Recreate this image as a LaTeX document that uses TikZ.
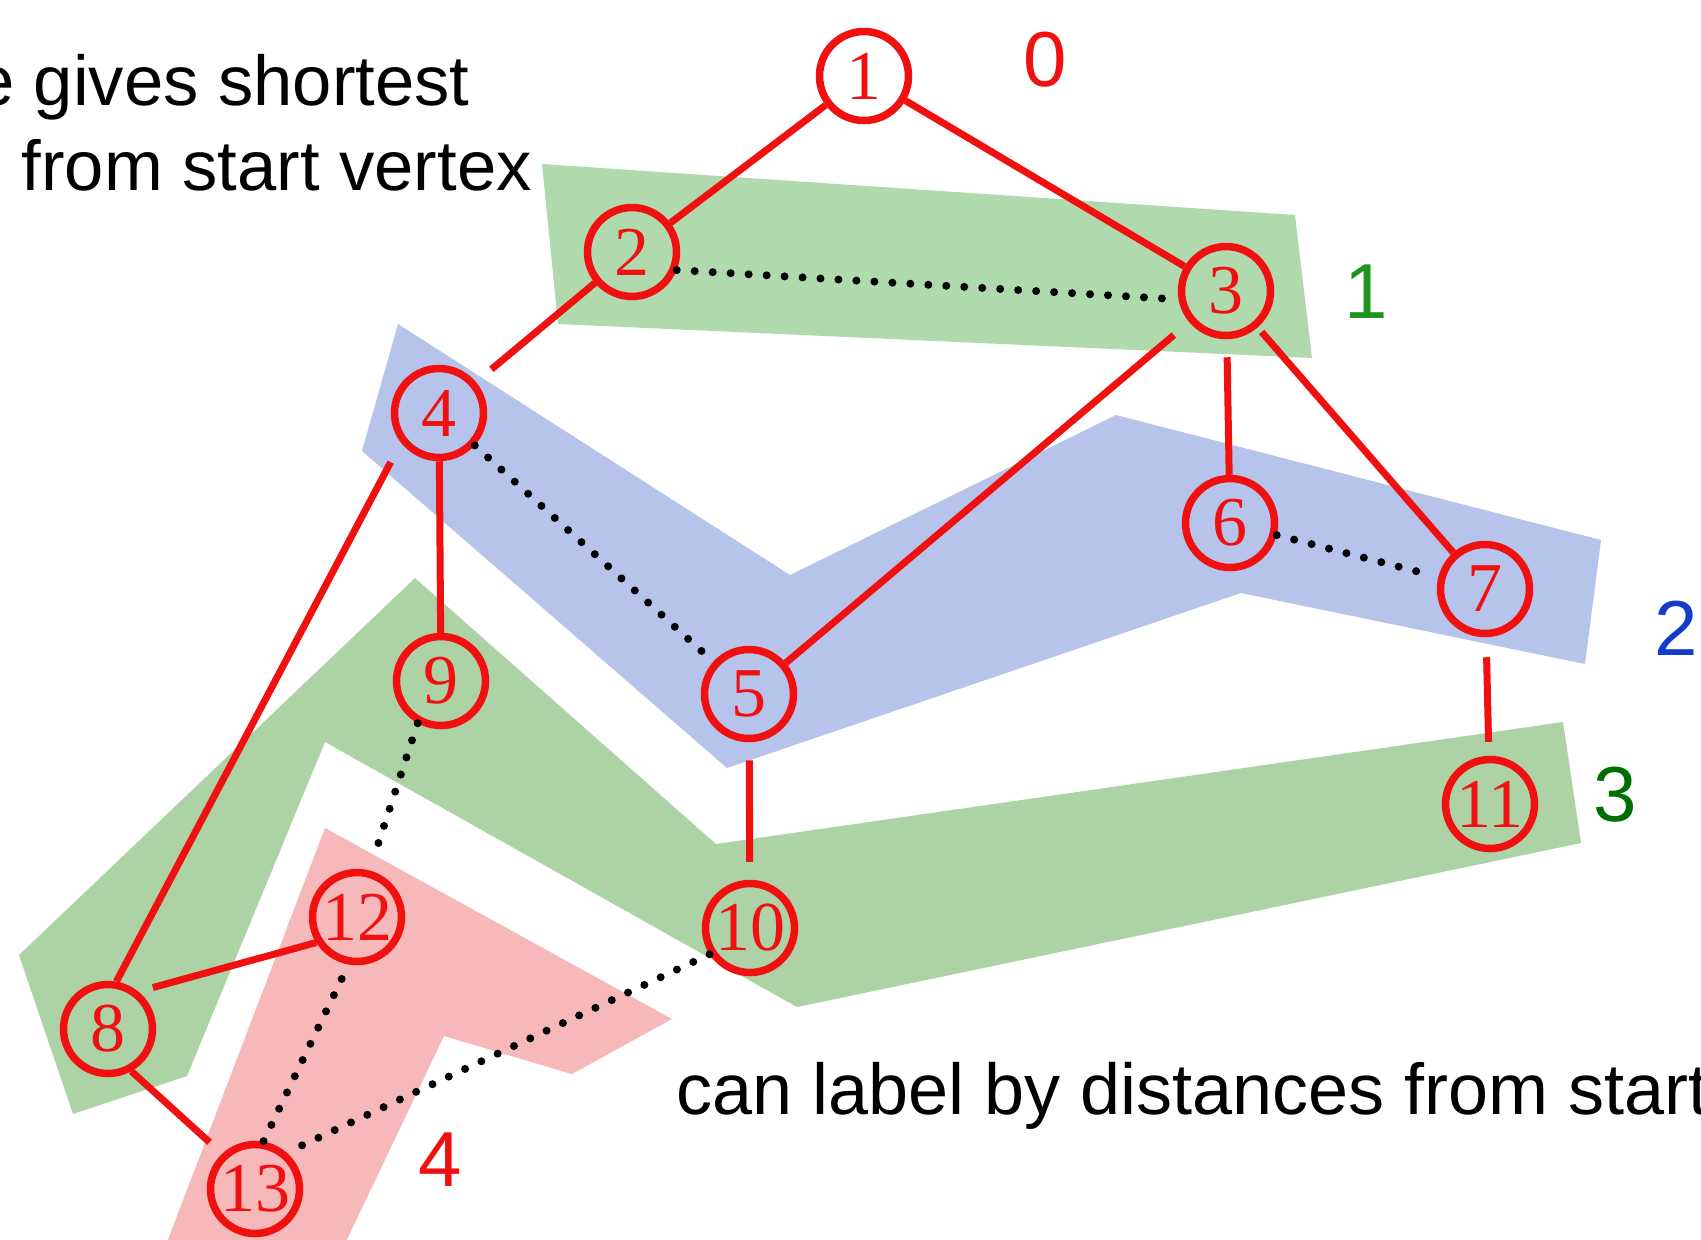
\documentclass[tikz,border=0pt]{standalone}
\usepackage{fontspec}
\setmainfont{Liberation Serif}
\newfontfamily\labelsans{Liberation Sans}

\definecolor{edgered}{RGB}{240,16,16}
\definecolor{bandgreen}{RGB}{176,218,174}
\definecolor{bandblue}{RGB}{182,196,236}
\definecolor{bandgreendark}{RGB}{172,210,166}
\definecolor{bandpink}{RGB}{246,184,184}
\definecolor{lvgreen}{RGB}{30,150,30}
\definecolor{lvblue}{RGB}{20,60,200}
\definecolor{lvdkgreen}{RGB}{0,110,0}

\begin{document}
\begin{tikzpicture}[x=0.5pt,y=-0.5pt,
  vertex/.style={circle, draw=edgered, line width=3.75pt, minimum size=44.5pt,
    inner sep=0pt, text=edgered, font=\fontsize{35}{42}\selectfont},
  treeedge/.style={draw=edgered, line width=3.5pt},
  crossedge/.style={draw=black, line width=4pt, line cap=round,
    dash pattern=on 0pt off 9pt},
  depthlabel/.style={font=\labelsans\fontsize{39}{47}\selectfont, inner sep=0pt},
  notetext/.style={font=\labelsans\fontsize{35.3}{42}\selectfont, inner sep=0pt, text=black},
]
\useasboundingbox (0,0) rectangle (1701,1239);
\clip (0,0) rectangle (1701,1239);

% distance bands
\fill[bandgreen] (542,164) -- (1295,215) -- (1312,358) -- (558,324) -- cycle;
\fill[bandblue] (398,324) -- (790,575) -- (1116,415) -- (1601,540) -- (1585,664)
  -- (1241,593) -- (727,768) -- (362,451) -- cycle;
\fill[bandgreendark] (19,955) -- (415,578) -- (716,844) -- (1563,722) -- (1581,843)
  -- (797,1007) -- (325,742) -- (187,1076) -- (73,1114) -- cycle;
\fill[bandpink] (325,828) -- (672,1019) -- (572,1074) -- (444,1036) -- (342,1250)
  -- (164,1250) -- cycle;

% captions
\node[notetext, anchor=base east] (capA) at (470,105) {e gives shortest};
\node[notetext, anchor=base east] (capB) at (532,190) {from start vertex};
\node[notetext, anchor=base west, font=\labelsans\fontsize{36}{43}\selectfont] (capC)
  at (676,1114) {can label by distances from start};

% depth labels
\node[depthlabel, text=edgered] (d0) at (1045,60) {0};
\node[depthlabel, text=lvgreen] (d1) at (1366,292) {1};
\node[depthlabel, text=lvblue] (d2) at (1676,628) {2};
\node[depthlabel, text=lvdkgreen] (d3) at (1615,795) {3};
\node[depthlabel, text=edgered] (d4) at (440,1160) {4};

% vertices
\node[vertex] (n1) at (864,76) {1};
\node[vertex] (n2) at (632,252) {2};
\node[vertex] (n3) at (1226,291) {3};
\node[vertex] (n4) at (439,413) {4};
\node[vertex] (n5) at (749,694) {5};
\node[vertex] (n6) at (1230,523) {6};
\node[vertex] (n7) at (1485,589) {7};
\node[vertex] (n8) at (108,1029) {8};
\node[vertex] (n9) at (441,681) {9};
\node[vertex] (n10) at (750,928) {10};
\node[vertex] (n11) at (1490,804) {11};
\node[vertex] (n12) at (357,917) {12};
\node[vertex] (n13) at (255,1189) {13};

% tree edges
\draw[treeedge] (n1) -- (n2);
\draw[treeedge] (n1) -- (n3);
\draw[treeedge, shorten >=10pt] (n2) -- (n4);
\draw[treeedge, shorten <=10pt] (n3) -- (n5);
\draw[treeedge, shorten <=9pt] (n3) -- (n6);
\draw[treeedge, shorten <=3pt] (n3) -- (n7);
\draw[treeedge, shorten <=11pt] (n4.218) -- (n8.80);
\draw[treeedge] (n4) -- (n9);
\draw[treeedge, shorten <=9pt, shorten >=9pt] (n5) -- (n10);
\draw[treeedge, shorten <=10pt, shorten >=7pt] (n7) -- (n11);
\draw[treeedge, shorten <=7.5pt] (n8.51) -- (n12.212);
\draw[treeedge, shorten >=8.5pt] (n8.-61) -- (n13.133);

% non-tree edges
\draw[crossedge] (n2.-22) -- (n3.190);
\draw[crossedge] (n4) -- (n5);
\draw[crossedge, shorten >=10pt] (n6) -- (n7);
\draw[crossedge, shorten >=12pt] (n9.241) -- (n12.75);
\draw[crossedge, shorten <=8pt] (n12.260) -- (n13.80);
\draw[crossedge] (n10.213) -- (n13.49);
\end{tikzpicture}
\end{document}
